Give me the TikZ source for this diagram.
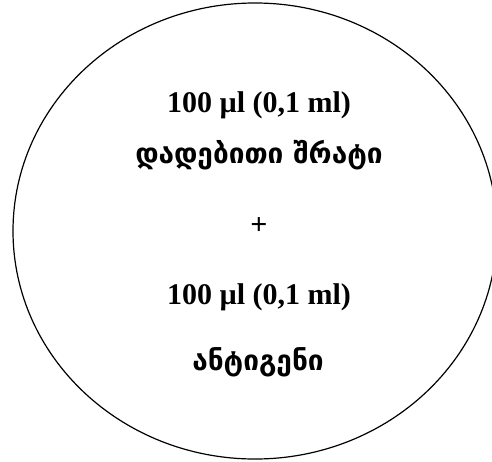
\documentclass[tikz,border=0pt]{standalone}
\usepackage{fontspec}
\setmainfont{Liberation Serif}
\newfontfamily\geo{DejaVu Sans}
\usetikzlibrary{shapes.geometric}
\tikzset{
  lat/.style={font=\fontsize{30}{33}\selectfont\bfseries, inner sep=0pt},
  geotext/.style={font=\geo\bfseries\fontsize{28}{32}\selectfont, inner sep=0pt},
  oval/.style={ellipse, draw, line width=1.2pt, inner sep=0pt, minimum width=484pt, minimum height=456pt}
}
\begin{document}
\begin{tikzpicture}[x=1pt,y=-1pt]
\useasboundingbox (0,0) rectangle (492,461);
\node[oval] (o) at (255,231) {};
\node[lat] (a1) at (259,105) {100 µl (0,1 ml)};
\node[geotext] (g1) at (259,155) {დადებითი შრატი};
\node[lat] (p) at (259,226) {+};
\node[lat] (a2) at (259,297) {100 µl (0,1 ml)};
\node[geotext] (g2) at (258,362) {ანტიგენი};
\end{tikzpicture}
\end{document}
